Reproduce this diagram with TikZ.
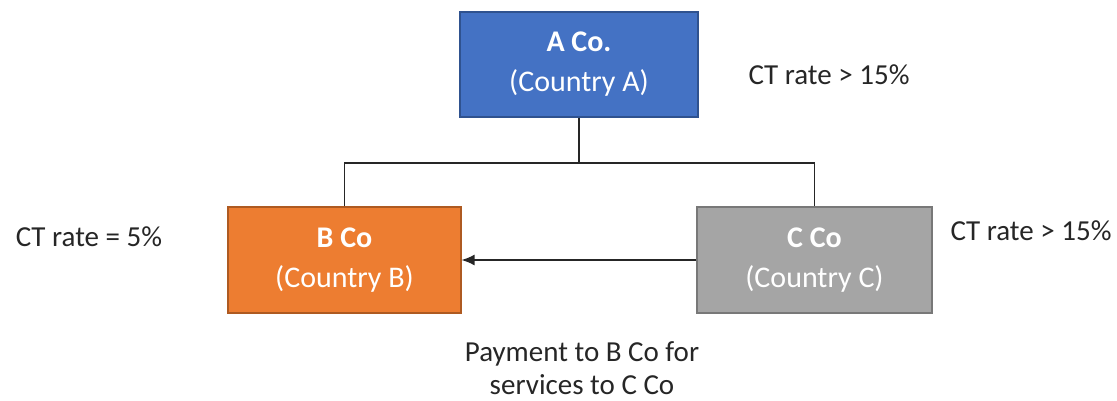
\documentclass[tikz,border=0pt]{standalone}
\usepackage{fontspec}
\setmainfont{Carlito}
\usetikzlibrary{arrows.meta}
\definecolor{aFill}{HTML}{4472C4}
\definecolor{aLine}{HTML}{2F528F}
\definecolor{bFill}{HTML}{ED7D31}
\definecolor{bLine}{HTML}{AE5A21}
\definecolor{cFill}{HTML}{A5A5A5}
\definecolor{cLine}{HTML}{787878}
\definecolor{txt}{HTML}{262626}
\begin{document}
\begin{tikzpicture}[x=1pt,y=-1pt,
  cobox/.style={draw, line width=1.2pt, text=white, align=center, inner sep=0pt,
    font=\fontsize{30}{40}\selectfont},
  lbl/.style={text=txt, align=center, inner sep=0pt, font=\fontsize{29}{33}\selectfont},
  conn/.style={draw=black!85, line width=1.3pt}]
\useasboundingbox (0,0) rectangle (1117,400);
\node[cobox, fill=aFill, draw=aLine, minimum width=238pt, minimum height=105pt] (A) at (579,64.5) {\textbf{A Co.}\\(Country A)};
\node[cobox, fill=bFill, draw=bLine, minimum width=233pt, minimum height=106pt] (B) at (344.5,260) {\textbf{B Co}\\(Country B)};
\node[cobox, fill=cFill, draw=cLine, minimum width=235pt, minimum height=106pt] (C) at (814.5,260) {\textbf{C Co}\\(Country C)};
\coordinate (j) at (579,163);
\draw[conn] (A.south) -- (j);
\draw[conn] (B.north) |- (j) -| (C.north);
\draw[conn, -{Latex[length=13pt,width=11pt]}] (C.west) -- (B.east);
\node[lbl] (tA) at (829,75) {CT rate > 15\%};
\node[lbl] (tB) at (89,237) {CT rate = 5\%};
\node[lbl] (tC) at (1031,231) {CT rate > 15\%};
\node[lbl] (pay) at (582,368) {Payment to B Co for\\services to C Co};
\end{tikzpicture}
\end{document}
